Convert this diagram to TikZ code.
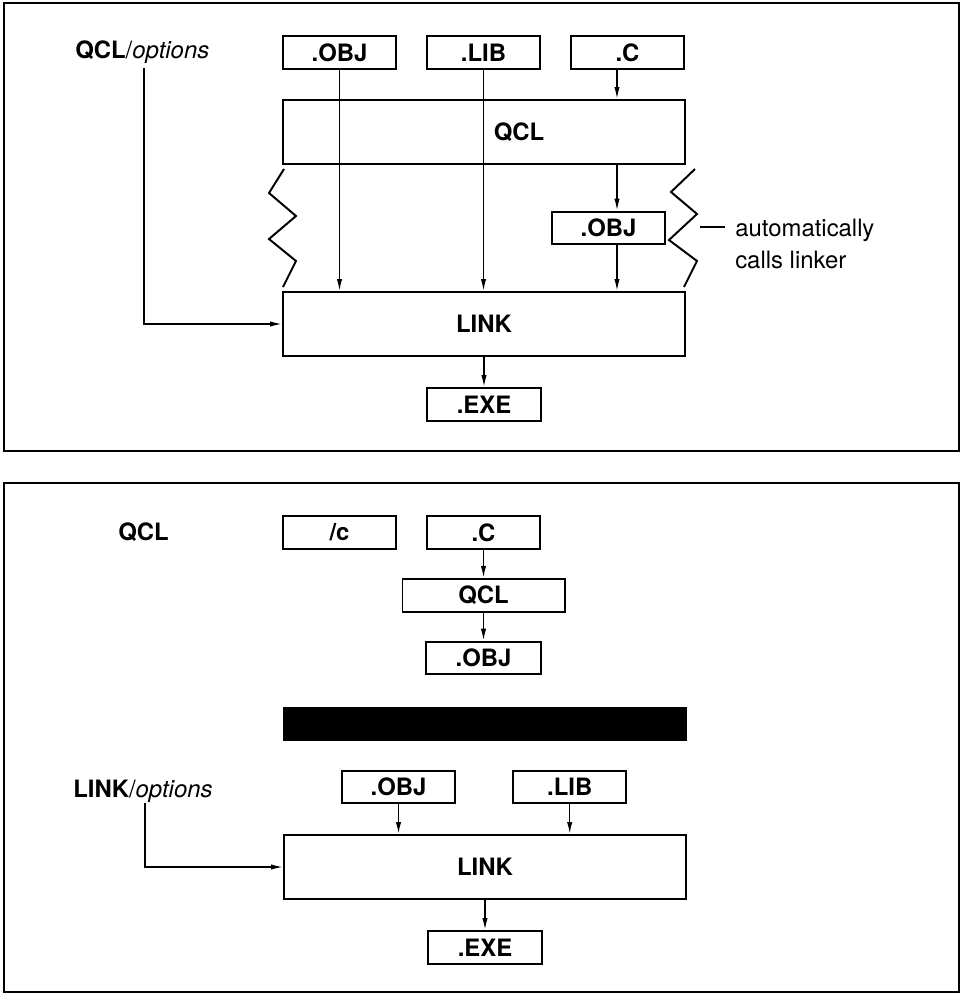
\documentclass[tikz,border=0pt]{standalone}
\usepackage{fontspec}
\setmainfont{TeX Gyre Heros}
\usetikzlibrary{positioning, arrows.meta, calc}
\newcommand{\figfont}{\fontsize{17}{22.8}\selectfont}

\begin{document}
\begin{tikzpicture}[
  x=0.025cm, y=-0.025cm,
  node distance=0.75cm and 0.72cm,
  panel/.style={draw, line width=1.5pt},
  box/.style={rectangle, draw, line width=1.4pt, minimum width=#1,
              minimum height=0.82cm, inner sep=0pt,
              font=\figfont\bfseries},
  box/.default=2.83cm,
  stage/.style={rectangle, draw, line width=1.4pt, minimum width=10.05cm,
                minimum height=1.6cm, inner sep=0pt,
                font=\figfont\bfseries},
  cmdlabel/.style={inner sep=0pt, anchor=base west, font=\figfont},
  note/.style={inner sep=0pt, anchor=west, align=left, font=\figfont},
  arrow/.style={-{Latex[length=8.5pt, width=3.8pt]}, line width=1pt},
  wiggle/.style={line width=1.4pt}
]

\useasboundingbox (0,0) rectangle (962,994);

% ==================== QCL AND LINK IN ONE STEP ====================
\draw[panel] (4,3) rectangle (959,451);

\node[cmdlabel] (tqclopt) at (75,58) {\textbf{QCL}/\textit{options}};

\node[box] (tobj) at (339.5,52.5) {.OBJ};
\node[box, right=of tobj] (tlib) {.LIB};
\node[box, right=of tlib] (tsrc) {.C};

\node[stage] (tqcl) at (484,132) {\hspace*{1.75cm}QCL};
\node[box] (tobj2) at (608.5,228) {.OBJ};
\node[stage] (tlink) at (484,324) {LINK};
\node[box, below=of tlink] (texe) {.EXE};

\coordinate (ccol) at (617,0);
\coordinate (toptfoot) at (144,68);
\coordinate (tbrace) at (700,227);

\node[note] (tnote) at (735,243.5) {automatically\\calls linker};

% brackets round the linker call
\draw[wiggle] (284,169) -- (269,193) -- (296,216) -- (269,239) -- (296,261) -- (283,287);
\draw[wiggle] (695,169) -- (671,192) -- (697,214) -- (669,240) -- (697,261) -- (684,287);
\draw[line width=1pt] (tbrace) -- ([xshift=-0.25cm]tbrace -| tnote.west);

% ==================== TOP ARROWS ====================
\draw[arrow] (toptfoot) |- (tlink.west);
\draw[arrow] (tobj.south) -- (tobj.south |- tlink.north);
\draw[arrow] (tlib.south) -- (tlib.south |- tlink.north);
\draw[arrow] (tsrc.south -| ccol) -- (tqcl.north -| ccol);
\draw[arrow] (tqcl.south -| ccol) -- (tobj2.north -| ccol);
\draw[arrow] (tobj2.south -| ccol) -- (tlink.north -| ccol);
\draw[arrow] (tlink.south) -- (texe.north);

% ==================== QCL /c THEN LINK ====================
\draw[panel] (4,483) rectangle (959,992);

\node[cmdlabel] (bqcllbl) at (118,540) {\textbf{QCL}};

\node[box] (bswitch) at (339.5,532.5) {/c};
\node[box, right=of bswitch] (bsrc) {.C};
\node[box=4.05cm, below=0.7cm of bsrc] (bqcl) {QCL};
\node[box=2.88cm, below=0.7cm of bqcl] (bobj) {.OBJ};

\fill (283,707) rectangle (687,741);

\node[cmdlabel] (blinkopt) at (73,797) {\textbf{LINK}/\textit{options}};

\node[box] (bobj2) at (398.5,787) {.OBJ};
\node[box, right=1.4cm of bobj2] (blib) {.LIB};
\node[stage] (blink) at (485,867) {LINK};
\node[box, below=of blink] (bexe) {.EXE};

\coordinate (boptfoot) at (145,803);

% ==================== BOTTOM ARROWS ====================
\draw[arrow] (bsrc) -- (bqcl);
\draw[arrow] (bqcl) -- (bobj);
\draw[arrow] (boptfoot) |- (blink.west);
\draw[arrow] (bobj2.south) -- (bobj2.south |- blink.north);
\draw[arrow] (blib.south) -- (blib.south |- blink.north);
\draw[arrow] (blink.south) -- (bexe.north);

\end{tikzpicture}
\end{document}
